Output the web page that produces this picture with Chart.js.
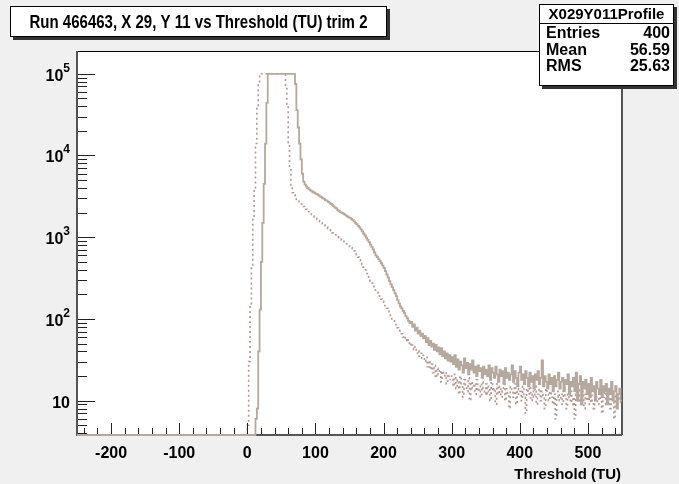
<!DOCTYPE html>
<html>
<head>
<meta charset="utf-8">
<script src="https://cdn.jsdelivr.net/npm/chart.js@4.4.0/dist/chart.umd.min.js"></script>
<style>
  html, body { margin: 0; padding: 0; background: #f0f0f0; }
  #histo { display: block; }
</style>
</head>
<body>
<canvas id="histo" width="679" height="484"></canvas>
<script>
// histogram binning (ROOT style): bins of 2 TU, first bin starts at 0
const xMin = -250;
const xMax = 550;
const binStart = 0;
const binWidth = 2;

// solid histogram, one value per bin from x = 0 to x = 548
const solidCounts = [
  0, 0, 0, 0, 0, 0,
  6, 8, 40, 130, 500, 1500, 4500, 14000, 44000,
  100000, 100000, 100000, 100000, 100000, 100000, 100000, 100000, 100000, 100000,
  100000, 100000, 100000, 100000, 100000, 100000, 100000, 100000, 100000, 100000,
  75000, 36000, 22000, 14000, 9000, 6000, 4800, 4400, 4200, 4000,
  3850, 3750, 3650, 3550, 3500, 3400, 3350, 3250, 3150, 3100,
  3000, 2950, 2850, 2800, 2700, 2650, 2550, 2500, 2400, 2300, 2250, 2150, 2080,
  2030, 1990, 1950, 1900, 1850, 1800, 1750, 1720, 1680, 1620, 1560,
  1500, 1450, 1380, 1320, 1250, 1180, 1110, 1050, 990,
  930, 870, 810, 760, 710, 650, 600,
  570, 540, 510, 480, 450, 420, 385, 350, 320, 290, 265,
  245, 225, 205, 190, 170, 155, 142,
  135, 125, 118, 108, 102, 95, 89,
  92, 80, 86, 72, 78, 66, 72, 62, 66, 58, 62, 52, 58, 48, 54,
  46, 50, 42, 48, 40, 45, 37, 44, 35, 40, 33, 38, 31, 36, 30,
  34, 28, 36, 26, 32, 24, 30, 27, 22, 33, 25, 29, 21, 28, 24, 31, 22, 26, 20, 27, 23, 25, 19, 26, 21,
  24, 20, 27, 18, 25, 22, 19, 26, 21, 17, 24, 20, 23, 16, 25, 19, 22, 18, 21, 27, 17, 23, 19, 15, 22,
  26, 18, 21, 16, 23, 19, 15, 22, 17, 20, 14, 21, 18, 23, 16, 19, 31, 15, 20, 17, 14, 21, 16, 19, 13,
  20, 15, 18, 22, 14, 17, 19, 13, 18, 16, 21, 12, 17, 15, 19, 13, 22, 10, 16, 20, 9, 17, 14, 18, 12,
  16, 11, 19, 13, 15, 10, 17, 14, 12, 18, 11, 15, 13, 16, 9, 14, 12, 17, 10, 13, 15, 8, 12, 14, 10
];

// dotted histogram, same bins
const dottedCounts = [
  5, 30, 150, 420, 1700, 4000, 14000, 40000, 80000,
  100000, 100000, 100000, 100000, 100000, 100000, 100000, 100000, 100000, 100000,
  100000, 100000, 100000, 100000, 100000, 100000, 100000, 100000, 100000,
  70000, 40000, 14000, 7000, 4200, 3500, 3300, 3100, 2900, 2750, 2630, 2550,
  2450, 2380, 2300, 2200, 2130, 2050, 1980, 1900, 1820,
  1760, 1700, 1650, 1600, 1550, 1500, 1460, 1420, 1380, 1330, 1280, 1230, 1180, 1130,
  1100, 1070, 1040, 1010, 980, 950, 920, 890, 860, 830, 800, 780, 770,
  740, 710, 680, 650, 610, 570, 530,
  500, 460, 430, 400, 360, 330,
  310, 290, 275, 260, 240, 225, 210, 200, 190,
  175, 165, 155, 145, 135, 125, 115, 107,
  100, 95, 88, 85, 78, 72, 68,
  66, 60, 62, 54, 58, 50, 52, 46, 48,
  42, 46, 38, 41, 35, 38, 33, 36,
  30, 34, 26, 31, 24, 28, 22, 27, 19, 25, 21, 24, 17, 23, 20, 22, 16, 21, 18, 20,
  19, 15, 21, 14, 18, 12, 20, 16, 11, 18, 15, 13, 19, 10, 17, 14, 16, 12, 18, 13, 15, 11, 17, 14, 12,
  16, 12, 15, 10, 17, 13, 14, 9, 16, 12, 15, 11, 13, 17, 10, 14, 12, 8, 15, 13, 11, 16, 9, 14, 12,
  13, 10, 15, 11, 7, 14, 12, 16, 10, 13, 11, 15, 9, 12, 14, 10, 13, 11, 8, 14, 12, 10, 13, 11, 9,
  12, 6, 11, 13, 10, 12, 9, 14, 11, 8, 12, 10, 13, 9, 11, 6, 12, 10, 14, 9, 11, 13, 8, 12, 10,
  11, 9, 13, 10, 8, 12, 11, 9, 12, 10, 7, 11, 13, 9, 10, 12, 8, 11, 10, 6, 12, 9, 11, 10, 9
];

const xTickLabels = [-200, -100, 0, 100, 200, 300, 400, 500];
const yDecades = [10, 100, 1000, 10000, 100000];
const yExponents = ["", "2", "3", "4", "5"];
const yMin = 3.8;
const yMax = 1.9e5;

const titleText = "Run 466463, X 29, Y 11 vs Threshold (TU) trim 2";
const xAxisTitle = "Threshold (TU)";
const statsName = "X029Y011Profile";
const statsRows = [["Entries", "400"], ["Mean", "56.59"], ["RMS", "25.63"]];

const FONT = "'Liberation Sans', Arial, Helvetica, sans-serif";
const solidColor = "rgb(181,168,156)";
const dottedColor = "rgb(180,152,146)";

// empty bins sit on the bottom of the frame, like ROOT draws them
function toSteps(counts) {
  const pts = [{ x: xMin, y: yMin }];
  counts.forEach((v, i) => {
    pts.push({ x: binStart + i * binWidth, y: v > 0 ? v : yMin });
  });
  pts.push({ x: binStart + counts.length * binWidth, y: counts[counts.length - 1] });
  return pts;
}

const rootLook = {
  id: "rootLook",
  beforeDraw(chart) {
    const c = chart.ctx;
    const a = chart.chartArea;
    c.save();
    c.fillStyle = "#f0f0f0";
    c.fillRect(0, 0, chart.width, chart.height);
    c.fillStyle = "#ffffff";
    c.fillRect(a.left, a.top, a.right - a.left, a.bottom - a.top);

    // frame goes under the histograms
    c.strokeStyle = "#000";
    c.lineWidth = 1;
    c.strokeRect(a.left + 0.5, a.top + 0.5, a.right - a.left - 1, a.bottom - a.top - 1);
    c.strokeStyle = "#555";
    c.lineWidth = 2;
    c.beginPath();
    c.moveTo(a.left, a.top);
    c.lineTo(a.left, a.bottom);
    c.lineTo(a.right, a.bottom);
    c.moveTo(a.right, a.top);
    c.lineTo(a.right, a.bottom);
    c.stroke();
    c.restore();
  },
  afterDatasetsDraw(chart) {
    const c = chart.ctx;
    const a = chart.chartArea;
    const xs = chart.scales.x;
    const ys = chart.scales.y;
    c.save();

    // x ticks (inside the frame)
    c.strokeStyle = "#222";
    c.lineWidth = 1;
    c.beginPath();
    for (let v = -240; v <= 540; v += 20) {
      const px = Math.round(xs.getPixelForValue(v)) + 0.5;
      const len = v % 100 === 0 ? 11 : 6;
      c.moveTo(px, a.bottom - 1);
      c.lineTo(px, a.bottom - 1 - len);
    }
    // y ticks (inside the frame)
    yDecades.concat([1]).forEach((d) => {
      for (let m = 1; m <= 9; m++) {
        const v = d * m;
        if (v < yMin || v > yMax) continue;
        const py = Math.round(ys.getPixelForValue(v)) + 0.5;
        const len = m === 1 ? 17 : 9;
        c.moveTo(a.left + 1, py);
        c.lineTo(a.left + 1 + len, py);
      }
    });
    c.stroke();

    // x tick labels
    c.fillStyle = "#000";
    c.font = "bold 16px " + FONT;
    c.textAlign = "center";
    c.textBaseline = "alphabetic";
    xTickLabels.forEach((v) => {
      c.fillText(String(v), xs.getPixelForValue(v), a.bottom + 23);
    });

    // y tick labels: 10, 10^2 ... 10^5
    yDecades.forEach((d, i) => {
      const py = ys.getPixelForValue(d);
      const exp = yExponents[i];
      c.font = "bold 12px " + FONT;
      const ew = exp ? c.measureText(exp).width : 0;
      c.font = "bold 16px " + FONT;
      c.textAlign = "right";
      c.fillText("10", a.left - 7 - ew, py + 7);
      if (exp) {
        c.font = "bold 12px " + FONT;
        c.textAlign = "left";
        c.fillText(exp, a.left - 7 - ew, py - 2);
      }
    });

    // x axis title
    c.font = "bold 15px " + FONT;
    c.textAlign = "right";
    c.fillText(xAxisTitle, a.right - 1, chart.height - 5);

    // title box
    const tb = { x: 10, y: 6, w: 377, h: 31 };
    c.fillStyle = "#333";
    c.fillRect(tb.x + 3, tb.y + 3, tb.w, tb.h);
    c.fillStyle = "#fff";
    c.fillRect(tb.x, tb.y, tb.w, tb.h);
    c.strokeStyle = "#000";
    c.lineWidth = 1;
    c.strokeRect(tb.x + 0.5, tb.y + 0.5, tb.w - 1, tb.h - 1);
    c.fillStyle = "#000";
    c.font = "bold 18px " + FONT;
    c.textAlign = "center";
    c.fillText(titleText, tb.x + tb.w / 2, tb.y + 22, 338);

    // stats box
    const sb = { x: 539, y: 4, w: 135, h: 82 };
    c.fillStyle = "#333";
    c.fillRect(sb.x + 3, sb.y + 3, sb.w, sb.h);
    c.fillStyle = "#fff";
    c.fillRect(sb.x, sb.y, sb.w, sb.h);
    c.strokeStyle = "#000";
    c.strokeRect(sb.x + 0.5, sb.y + 0.5, sb.w - 1, sb.h - 1);
    c.beginPath();
    c.moveTo(sb.x, sb.y + 19.5);
    c.lineTo(sb.x + sb.w, sb.y + 19.5);
    c.stroke();
    c.fillStyle = "#000";
    c.font = "bold 15px " + FONT;
    c.textAlign = "center";
    c.fillText(statsName, sb.x + sb.w / 2, sb.y + 15, 125);
    c.font = "bold 16px " + FONT;
    statsRows.forEach((r, i) => {
      const by = sb.y + 34 + i * 16.5;
      c.textAlign = "left";
      c.fillText(r[0], sb.x + 7, by);
      c.textAlign = "right";
      c.fillText(r[1], sb.x + sb.w - 4, by);
    });

    c.restore();
  }
};

const ctx = document.getElementById("histo");

const histo = new Chart(ctx, {
  type: "line",
  data: {
    datasets: [
      {
        label: "solid",
        data: toSteps(solidCounts),
        borderColor: solidColor,
        borderWidth: 1.8,
        stepped: "before",
        pointRadius: 0,
        fill: false,
        clip: { left: 0, top: 0, right: 0, bottom: 2 },
      },
      {
        label: "dotted",
        data: toSteps(dottedCounts),
        borderColor: dottedColor,
        borderWidth: 1.6,
        borderDash: [2, 3],
        stepped: "before",
        pointRadius: 0,
        fill: false,
        clip: { left: 0, top: 0, right: 0, bottom: 2 },
      },
    ],
  },
  options: {
    responsive: false,
    animation: false,
    events: [],
    layout: {
      padding: { left: 77, right: 57, top: 51, bottom: 49 },
    },
    plugins: {
      legend: { display: false },
      tooltip: { enabled: false },
    },
    scales: {
      x: { type: "linear", min: xMin, max: xMax, display: false },
      y: { type: "logarithmic", min: yMin, max: yMax, display: false },
    },
  },
  plugins: [rootLook],
});
</script>
</body>
</html>
